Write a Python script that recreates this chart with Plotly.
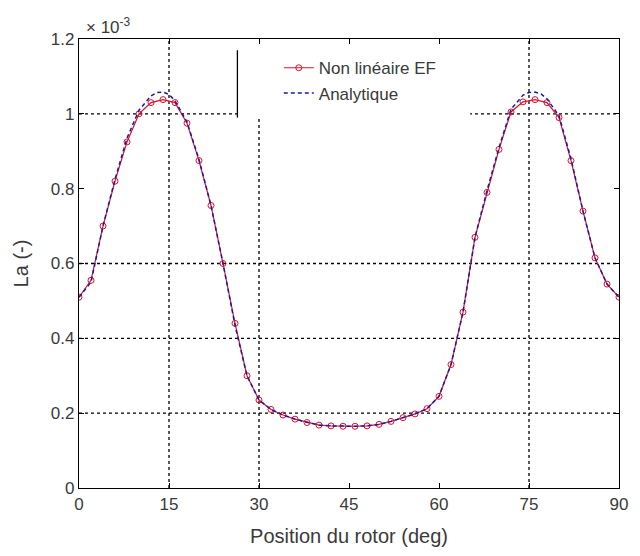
import plotly.graph_objects as go

# ---------------- data (values in units of 1e-3) ----------------
angle_fe = [0, 2, 4, 6, 8, 10, 12, 14, 16, 18, 20, 22, 24, 26, 28, 30, 32, 34, 36, 38, 40, 42, 44,
            46, 48, 50, 52, 54, 56, 58, 60, 62, 64, 66, 68, 70, 72, 74, 76, 78, 80, 82, 84, 86, 88, 90]
la_fe = [0.51, 0.555, 0.70, 0.82, 0.925, 1.0, 1.03, 1.038, 1.03, 0.975, 0.875, 0.755, 0.60, 0.44,
         0.30, 0.235, 0.21, 0.195, 0.184, 0.175, 0.168, 0.166, 0.165, 0.165, 0.166, 0.17, 0.178,
         0.188, 0.198, 0.212, 0.245, 0.33, 0.47, 0.67, 0.79, 0.905, 1.005, 1.032, 1.038, 1.03, 0.99,
         0.875, 0.74, 0.615, 0.545, 0.51]

angle_an = [0, 2, 4, 6, 8, 10, 12, 13, 14, 15, 16, 18, 20, 22, 24, 26, 28, 30, 32, 34, 36, 38, 40,
            42, 44, 46, 48, 50, 52, 54, 56, 58, 60, 62, 64, 66, 68, 70, 72, 74, 75, 76, 77, 78, 80,
            82, 84, 86, 88, 90]
la_an = [0.51, 0.55, 0.70, 0.825, 0.935, 1.01, 1.048, 1.057, 1.058, 1.052, 1.035, 0.978, 0.878,
         0.755, 0.60, 0.435, 0.30, 0.235, 0.21, 0.195, 0.184, 0.175, 0.168, 0.166, 0.165, 0.165,
         0.166, 0.17, 0.178, 0.188, 0.198, 0.212, 0.245, 0.33, 0.47, 0.67, 0.795, 0.91, 1.012,
         1.05, 1.057, 1.058, 1.053, 1.04, 0.995, 0.88, 0.74, 0.615, 0.545, 0.51]

x_ticks = [0, 15, 30, 45, 60, 75, 90]
y_ticks = [0, 0.2, 0.4, 0.6, 0.8, 1.0, 1.2]
y_tick_text = ["0", "0.2", "0.4", "0.6", "0.8", "1", "1.2"]
grid_x = [15, 30, 75]
grid_y = [0.2, 0.4, 0.6, 1.0]
legend_box_x = [26.4, 65.2]
legend_box_y = [0.99, 1.2]

TXT = "#3a3a3a"
FONT = "Liberation Sans, Arial, sans-serif"

fig = go.Figure()
fig.add_trace(go.Scatter(
    x=angle_fe, y=la_fe, mode="lines+markers", name="Non linéaire EF",
    line=dict(color="#e0102a", width=1.2),
    marker=dict(symbol="circle-open", size=6, color="#e0102a", line=dict(width=1)),
))
fig.add_trace(go.Scatter(
    x=angle_an, y=la_an, mode="lines", name="Analytique",
    line=dict(color="#1a1aa8", width=1.5, dash="4px,3px"),
))

shapes = []
for gx in grid_x:
    shapes.append(dict(type="line", xref="x", yref="paper", x0=gx, x1=gx, y0=0, y1=1,
                       line=dict(color="black", width=1.3, dash="3px,3px"), layer="below"))
for gy in grid_y:
    shapes.append(dict(type="line", xref="paper", yref="y", x0=0, x1=1, y0=gy, y1=gy,
                       line=dict(color="black", width=1.3, dash="3px,3px"), layer="below"))
# legend background box (covers the grid under it), with its left border
shapes.append(dict(type="rect", xref="x", yref="y", x0=legend_box_x[0], x1=legend_box_x[1],
                   y0=legend_box_y[0], y1=legend_box_y[1], fillcolor="white",
                   line=dict(width=0), layer="below"))
shapes.append(dict(type="line", xref="x", yref="y", x0=legend_box_x[0], x1=legend_box_x[0],
                   y0=legend_box_y[0], y1=1.17, line=dict(color="black", width=1.3)))

fig.update_layout(
    width=640, height=556,
    margin=dict(l=79, r=12, t=39, b=65),
    paper_bgcolor="white", plot_bgcolor="white",
    font=dict(family=FONT, size=17, color=TXT),
    shapes=shapes,
    showlegend=True,
    legend=dict(x=0.37, y=0.975, xanchor="left", yanchor="top",
                bgcolor="rgba(0,0,0,0)", borderwidth=0,
                font=dict(size=17, color=TXT), tracegroupgap=0),
    annotations=[dict(text="× 10<sup>-3</sup>", xref="paper", yref="paper", x=0.01, y=1.0,
                      xanchor="left", yanchor="bottom", showarrow=False,
                      font=dict(size=17, color=TXT))],
)
fig.update_xaxes(range=[0, 90], tickvals=x_ticks, ticks="inside", ticklen=5, tickcolor="black",
                 showline=True, linecolor="black", linewidth=1.3, mirror="ticks",
                 showgrid=False, zeroline=False,
                 title=dict(text="Position du rotor (deg)", standoff=16),
                 tickfont=dict(size=17, color=TXT))
fig.update_yaxes(range=[0, 1.2], tickvals=y_ticks, ticktext=y_tick_text, ticks="inside", ticklen=5,
                 tickcolor="black", showline=True, linecolor="black", linewidth=1.3, mirror="ticks",
                 showgrid=False, zeroline=False,
                 title=dict(text="La (-)", standoff=16),
                 tickfont=dict(size=17, color=TXT))

fig.write_html("out.html")
